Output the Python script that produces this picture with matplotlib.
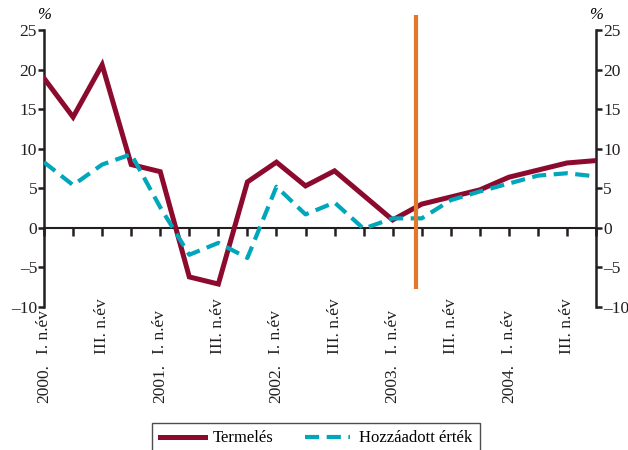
import numpy as np
import matplotlib.pyplot as plt
from matplotlib.ticker import FuncFormatter

plt.rcParams['font.family'] = ['Liberation Serif', 'DejaVu Serif']

# quarterly data 2000 Q1 .. 2004 Q4
termeles = [18.9, 14.0, 20.6, 8.0, 7.1, -6.2, -7.1, 5.8, 8.3, 5.3,
            7.2, 4.1, 1.0, 3.0, 3.9, 4.8, 6.4, 7.3, 8.2, 8.5]
hozzaadott = [8.3, 5.4, 8.0, 9.3, 2.6, -3.4, -1.9, -3.8, 5.2, 1.7,
              3.2, -0.1, 1.2, 1.2, 3.5, 4.6, 5.6, 6.6, 6.9, 6.5]
quarter_labels = ['I. n.év', 'III. n.év'] * 5
years = ['2000.', '2001.', '2002.', '2003.', '2004.']
cut_x = 12.8  # vertical marker between 2003 Q1 and Q2

x = np.arange(len(termeles))
fs = 12

fig = plt.figure(figsize=(6.28, 4.5), dpi=100)
ax = fig.add_axes([0.0701, 0.3178, 0.879, 0.6155])

red = '#8c0a2e'
cyan = '#00a6ba'
orange = '#e2782a'

l1, = ax.plot(x, termeles, color=red, lw=3.6, solid_joinstyle='miter', label='Termelés', zorder=3)
l2, = ax.plot(x, hozzaadott, color=cyan, lw=3.0, dashes=(3.4, 1.8), label='Hozzáadott érték', zorder=4)
ax.plot([cut_x, cut_x], [-7.7, 26.9], color=orange, lw=3.0, clip_on=False, zorder=5,
        solid_capstyle='butt')

ax.set_xlim(0, 19)
ax.set_ylim(-10, 25)
ax.set_yticks(np.arange(-10, 26, 5))
ax.yaxis.set_major_formatter(FuncFormatter(lambda v, p: ('\u2013%d' % -v) if v < 0 else '%d' % v))

ax.spines['top'].set_visible(False)
ax.spines['bottom'].set_position(('data', 0))
for s in ['left', 'right', 'bottom']:
    ax.spines[s].set_linewidth(1.8)
    ax.spines[s].set_color('#231f20')
ax.spines['bottom'].set_linewidth(1.5)

ax.tick_params(axis='y', which='both', direction='out', length=4.5, width=1.8,
               labelsize=fs + 0.5, left=True, right=True, labelleft=True, labelright=True,
               colors='#231f20', pad=0.5)
ax.set_xticks(x)
ax.tick_params(axis='x', direction='out', length=6, width=1.8, labelbottom=False,
               colors='#231f20')

tr = ax.get_xaxis_transform()
for i, lab in enumerate(quarter_labels):
    ax.text(2 * i, -0.17, lab, transform=tr, rotation=90, ha='center', va='bottom',
            fontsize=fs + 0.5, color='#231f20')
for i, y in enumerate(years):
    ax.text(4 * i, -0.345, y, transform=tr, rotation=90, ha='center', va='bottom',
            fontsize=fs + 0.5, color='#231f20')

fig.text(44 / 628, 1 - 15 / 450, '%', ha='center', va='center', fontsize=fs, style='italic')
fig.text(596 / 628, 1 - 15 / 450, '%', ha='center', va='center', fontsize=fs, style='italic')

leg = fig.legend(handles=[l1, l2], loc='upper center', bbox_to_anchor=(0.503, 0.06),
                 ncol=2, fontsize=fs, frameon=True, fancybox=False, handlelength=2.7,
                 columnspacing=1.9, borderpad=0.45, handletextpad=0.5, borderaxespad=0)
leg.get_frame().set_edgecolor('#231f20')
leg.get_frame().set_linewidth(1.0)

fig.savefig('out.png', dpi=100)
